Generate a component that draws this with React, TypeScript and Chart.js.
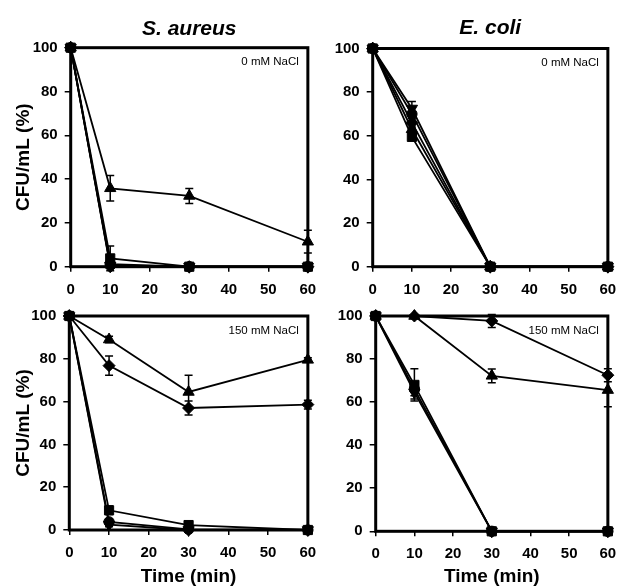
import React, { useEffect, useRef } from 'react';
import { Chart, registerables } from 'chart.js';

Chart.register(...registerables);

const FONT = "'Liberation Sans', Arial, sans-serif";

// Shared axis data
const timePoints = [0, 10, 30, 60];
const xMin = 0, xMax = 60, xStep = 10;
const yMin = 0, yMax = 100, yStep = 20;

// Titles / labels
const titleSA = 'S. aureus';
const titleEC = 'E. coli';
const yTitle = 'CFU/mL (%)';
const xTitle = 'Time (min)';
const note0 = '0 mM NaCl';
const note150 = '150 mM NaCl';

// S. aureus, 0 mM NaCl
const sa0Diamond = [100, 0, 0, 0];
const sa0DiamondErr = [0, 0, 0, 0];
const sa0Square = [100, 3.8, 0, 0];
const sa0SquareErr = [0, 5.6, 0, 0];
const sa0Triangle = [100, 35.8, 32.3, 11.4];
const sa0TriangleErr = [0, 5.8, 3.4, 5.2];
const sa0Circle = [100, 1.2, 0, 0];
const sa0CircleErr = [0, 0, 0, 0];
const sa0InvTri = [100, 0.5, 0, 0];
const sa0InvTriErr = [0, 0, 0, 0];

// E. coli, 0 mM NaCl
const ec0Diamond = [100, 66, 0, 0];
const ec0DiamondErr = [0, 2, 0, 0];
const ec0Square = [100, 59.5, 0, 0];
const ec0SquareErr = [0, 1.5, 0, 0];
const ec0Triangle = [100, 63, 0, 0];
const ec0TriangleErr = [0, 2, 0, 0];
const ec0Circle = [100, 70, 0, 0];
const ec0CircleErr = [0, 3, 0, 0];
const ec0InvTri = [100, 72.5, 0, 0];
const ec0InvTriErr = [0, 3.2, 0, 0];

// S. aureus, 150 mM NaCl
const sa150Diamond = [100, 76.8, 57, 58.6];
const sa150DiamondErr = [0, 4.5, 3.3, 2];
const sa150Square = [100, 9.2, 2.3, 0];
const sa150SquareErr = [0, 2, 1.5, 0];
const sa150Triangle = [100, 89, 64.5, 79.5];
const sa150TriangleErr = [0, 1.5, 7.8, 1];
const sa150Circle = [100, 3.8, 0.3, 0];
const sa150CircleErr = [0, 1.5, 0.5, 0];
const sa150InvTri = [100, 2.5, 0, 0];
const sa150InvTriErr = [0, 1, 0, 0];

// E. coli, 150 mM NaCl
const ec150Diamond = [100, 100, 97.7, 72.5];
const ec150DiamondErr = [0, 0, 3, 3];
const ec150Square = [100, 68, 0, 0];
const ec150SquareErr = [0, 7.5, 0, 0];
const ec150Triangle = [100, 100, 72.2, 65.6];
const ec150TriangleErr = [0, 0, 3.2, 7.8];
const ec150Circle = [100, 66, 0, 0];
const ec150CircleErr = [0, 3, 0, 0];
const ec150InvTri = [100, 64.5, 0, 0];
const ec150InvTriErr = [0, 3, 0, 0];

type Series = { values: number[]; errors: number[] };

const markerStyles = [
  { pointStyle: 'rectRot', pointRadius: 6, pointRotation: 0 },
  { pointStyle: 'rect', pointRadius: 6.5, pointRotation: 0 },
  { pointStyle: 'triangle', pointRadius: 6.5, pointRotation: 0 },
  { pointStyle: 'circle', pointRadius: 5.2, pointRotation: 0 },
  { pointStyle: 'triangle', pointRadius: 6.5, pointRotation: 180 },
];

const errorBarPlugin = {
  id: 'errorBars',
  afterDatasetsDraw(chart: any) {
    const { ctx } = chart;
    const xs = chart.scales.x;
    const ys = chart.scales.y;
    ctx.save();
    ctx.strokeStyle = '#000';
    ctx.lineWidth = 1.5;
    chart.data.datasets.forEach((ds: any) => {
      if (!ds.errors) return;
      ds.data.forEach((pt: any, j: number) => {
        const e = ds.errors[j];
        if (!e) return;
        const px = xs.getPixelForValue(pt.x);
        const top = ys.getPixelForValue(pt.y + e);
        const bot = ys.getPixelForValue(pt.y - e);
        const cap = 4;
        ctx.beginPath();
        ctx.moveTo(px, top);
        ctx.lineTo(px, bot);
        ctx.moveTo(px - cap, top);
        ctx.lineTo(px + cap, top);
        ctx.moveTo(px - cap, bot);
        ctx.lineTo(px + cap, bot);
        ctx.stroke();
      });
    });
    ctx.restore();
  },
};

const framePlugin = {
  id: 'frame',
  beforeDatasetsDraw(chart: any) {
    const { ctx, chartArea: a } = chart;
    ctx.save();
    ctx.strokeStyle = '#000';
    ctx.lineWidth = 3;
    ctx.strokeRect(a.left, a.top, a.right - a.left, a.bottom - a.top);
    ctx.restore();
  },
};

const notePlugin = {
  id: 'note',
  afterDraw(chart: any, _args: any, opts: any) {
    if (!opts || !opts.text) return;
    const { ctx, chartArea: a } = chart;
    ctx.save();
    ctx.fillStyle = '#000';
    ctx.font = `11.5px ${FONT}`;
    ctx.textAlign = 'right';
    ctx.textBaseline = 'middle';
    ctx.fillText(opts.text, a.right - 9, a.top + 14.5);
    ctx.restore();
  },
};

type PanelCfg = {
  left: number; top: number; w: number; h: number;
  title?: string; showYTitle: boolean; showXTitle: boolean;
  note: string; series: Series[];
  padTop: number; padRight: number; titlePadBottom: number;
  yW: number; xH: number;
};

function Panel({ cfg }: { cfg: PanelCfg }) {
  const ref = useRef<HTMLCanvasElement>(null);
  useEffect(() => {
    const datasets = cfg.series.map((s, i) => ({
      data: timePoints.map((t, j) => ({ x: t, y: s.values[j] })),
      errors: s.errors,
      borderColor: '#000',
      borderWidth: 1.8,
      backgroundColor: '#000',
      pointBackgroundColor: '#000',
      pointBorderColor: '#000',
      pointBorderWidth: 1,
      ...markerStyles[i],
      tension: 0,
      clip: false,
    }));
    const chart = new Chart(ref.current!, {
      type: 'line',
      data: { datasets: datasets as any },
      plugins: [framePlugin, errorBarPlugin, notePlugin],
      options: {
        animation: false,
        responsive: false,
        devicePixelRatio: 1,
        layout: { padding: { left: 0, right: cfg.padRight, top: cfg.padTop, bottom: 0 } },
        plugins: {
          legend: { display: false },
          tooltip: { enabled: false },
          title: {
            display: !!cfg.title,
            text: cfg.title || '',
            fullSize: false,
            color: '#000',
            font: { family: FONT, size: 21, weight: 'bold', style: 'italic' },
            padding: { top: 0, bottom: cfg.titlePadBottom },
          },
          note: { text: cfg.note },
        } as any,
        scales: {
          x: {
            type: 'linear',
            min: xMin,
            max: xMax,
            ticks: { stepSize: xStep, color: '#000', padding: 8.8, font: { family: FONT, size: 15, weight: 'bold' } },
            grid: { drawOnChartArea: false, drawTicks: true, tickLength: 5, color: '#000', lineWidth: 1.5 },
            border: { display: false },
            title: {
              display: cfg.showXTitle,
              text: xTitle,
              color: '#000',
              font: { family: FONT, size: 19, weight: 'bold' },
              padding: { top: 0, bottom: 0 },
            },
            afterFit: (s: any) => { s.height = cfg.xH; },
          },
          y: {
            type: 'linear',
            min: yMin,
            max: yMax,
            ticks: { stepSize: yStep, color: '#000', padding: 7, font: { family: FONT, size: 15, weight: 'bold' } },
            grid: { drawOnChartArea: false, drawTicks: true, tickLength: 6, color: '#000', lineWidth: 1.5 },
            border: { display: false },
            title: {
              display: cfg.showYTitle,
              text: yTitle,
              color: '#000',
              font: { family: FONT, size: 19, weight: 'bold' },
              padding: { top: 12.1, bottom: 0 },
            },
            afterFit: (s: any) => { s.width = cfg.yW; },
          },
        },
      } as any,
    });
    return () => chart.destroy();
  }, []);
  return (
    <canvas
      ref={ref}
      width={cfg.w}
      height={cfg.h}
      style={{ position: 'absolute', left: cfg.left, top: cfg.top, width: cfg.w, height: cfg.h }}
    />
  );
}

const mk = (v: number[][]): Series[] => {
  const out: Series[] = [];
  for (let i = 0; i < v.length; i += 2) out.push({ values: v[i], errors: v[i + 1] });
  return out;
};

const panels: PanelCfg[] = [
  {
    left: 0, top: 0, w: 325, h: 300, title: titleSA, showYTitle: true, showXTitle: false, note: note0,
    series: mk([sa0Diamond, sa0DiamondErr, sa0Square, sa0SquareErr, sa0Triangle, sa0TriangleErr, sa0Circle, sa0CircleErr, sa0InvTri, sa0InvTriErr]),
    padTop: 16.4, titlePadBottom: 6.1, padRight: 13.3, yW: 70.7, xH: 33.3,
  },
  {
    left: 315, top: 0, w: 310, h: 300, title: titleEC, showYTitle: false, showXTitle: false, note: note0,
    series: mk([ec0Diamond, ec0DiamondErr, ec0Square, ec0SquareErr, ec0Triangle, ec0TriangleErr, ec0Circle, ec0CircleErr, ec0InvTri, ec0InvTriErr]),
    padTop: 15.4, titlePadBottom: 7.9, padRight: 13.3, yW: 57.7, xH: 33.3,
  },
  {
    left: 0, top: 300, w: 325, h: 288, showYTitle: true, showXTitle: true, note: note150,
    series: mk([sa150Diamond, sa150DiamondErr, sa150Square, sa150SquareErr, sa150Triangle, sa150TriangleErr, sa150Circle, sa150CircleErr, sa150InvTri, sa150InvTriErr]),
    padTop: 12, titlePadBottom: 0, padRight: 15.7, yW: 69.3, xH: 58,
  },
  {
    left: 315, top: 300, w: 310, h: 288, showYTitle: false, showXTitle: true, note: note150,
    series: mk([ec150Diamond, ec150DiamondErr, ec150Square, ec150SquareErr, ec150Triangle, ec150TriangleErr, ec150Circle, ec150CircleErr, ec150InvTri, ec150InvTriErr]),
    padTop: 13.3, titlePadBottom: 0, padRight: 9.3, yW: 60.7, xH: 56.7,
  },
];

export default function App() {
  return (
    <div style={{ position: 'absolute', left: 0, top: 0, width: 625, height: 588, background: '#fff' }}>
      {panels.map((p, i) => (
        <Panel key={i} cfg={p} />
      ))}
    </div>
  );
}
